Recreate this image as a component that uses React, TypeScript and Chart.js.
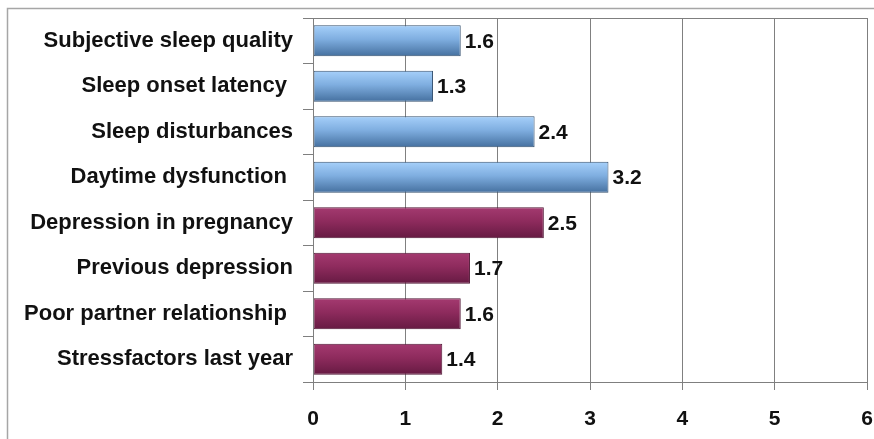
import React, { useEffect, useRef } from "react";
import { Chart, registerables } from "chart.js";

Chart.register(...registerables);

const categories = [
  "Subjective sleep quality",
  "Sleep onset latency ",
  "Sleep disturbances",
  "Daytime dysfunction ",
  "Depression in pregnancy",
  "Previous depression",
  "Poor partner relationship ",
  "Stressfactors last year",
];
const values = [1.6, 1.3, 2.4, 3.2, 2.5, 1.7, 1.6, 1.4];
const groups = ["sleep", "sleep", "sleep", "sleep", "risk", "risk", "risk", "risk"];
const xTicks = [0, 1, 2, 3, 4, 5, 6];

const FONT = "Arial, 'Liberation Sans', sans-serif";
const BAR_PCT = 0.68;

const palette: Record<string, { top: string; mid: string; bottom: string; border: string }> = {
  sleep: { top: "#a6d0fa", mid: "#7faee0", bottom: "#45709f", border: "#34506f" },
  risk: { top: "#a43a70", mid: "#8e2b5d", bottom: "#661a42", border: "#4f1433" },
};

const framePlugin = {
  id: "frame",
  beforeDraw(chart: any) {
    const { ctx, width, height } = chart;
    ctx.save();
    ctx.fillStyle = "#ffffff";
    ctx.fillRect(0, 0, width, height);
    ctx.strokeStyle = "#a6a6a6";
    ctx.lineWidth = 1.5;
    ctx.beginPath();
    ctx.moveTo(7.5, height);
    ctx.lineTo(7.5, 8.5);
    ctx.lineTo(width, 8.5);
    ctx.stroke();
    ctx.restore();
  },
  afterDraw(chart: any) {
    const { ctx, chartArea } = chart;
    ctx.save();
    ctx.strokeStyle = "#7f7f7f";
    ctx.lineWidth = 1;
    ctx.strokeRect(
      Math.round(chartArea.left) + 0.5,
      Math.round(chartArea.top) + 0.5,
      Math.round(chartArea.right - chartArea.left),
      Math.round(chartArea.bottom - chartArea.top)
    );
    ctx.restore();
  },
};

const labelPlugin = {
  id: "valueLabels",
  afterDatasetsDraw(chart: any) {
    const { ctx } = chart;
    const meta = chart.getDatasetMeta(0);
    ctx.save();
    ctx.font = `bold 21px ${FONT}`;
    ctx.fillStyle = "#111111";
    ctx.textAlign = "left";
    ctx.textBaseline = "middle";
    meta.data.forEach((el: any, i: number) => {
      ctx.fillText(values[i].toFixed(1), el.x + 4, el.y + 1);
    });
    ctx.restore();
  },
};

export default function App() {
  const ref = useRef<HTMLCanvasElement>(null);
  useEffect(() => {
    if (!ref.current) return;
    const chart = new Chart(ref.current, {
      type: "bar",
      data: {
        labels: categories,
        datasets: [
          {
            data: values,
            barPercentage: BAR_PCT,
            categoryPercentage: 1,
            borderWidth: 1,
            borderSkipped: false,
            borderColor: (c: any) => palette[groups[c.dataIndex]].border,
            backgroundColor: (c: any) => {
              const chart = c.chart;
              const g = palette[groups[c.dataIndex]];
              const ys = chart.scales && chart.scales.y;
              if (!ys || !chart.chartArea) return g.mid;
              const yc = ys.getPixelForValue(c.dataIndex);
              const h = ((chart.chartArea.bottom - chart.chartArea.top) / categories.length) * BAR_PCT;
              const grad = chart.ctx.createLinearGradient(0, yc - h / 2, 0, yc + h / 2);
              grad.addColorStop(0, g.top);
              grad.addColorStop(0.45, g.mid);
              grad.addColorStop(1, g.bottom);
              return grad;
            },
          },
        ],
      },
      options: {
        indexAxis: "y",
        responsive: false,
        animation: false,
        devicePixelRatio: 1,
        layout: { padding: { top: 18, right: 7, left: 0, bottom: 0 } },
        plugins: { legend: { display: false }, tooltip: { enabled: false } },
        scales: {
          x: {
            min: 0,
            max: 6,
            afterFit: (s: any) => {
              s.height = 57;
              s.paddingRight = 0;
              s.paddingLeft = 0;
            },
            afterBuildTicks: (s: any) => {
              s.ticks = xTicks.map((v) => ({ value: v }));
            },
            grid: {
              color: "#808080",
              lineWidth: 1,
              tickLength: 8,
              drawTicks: true,
            },
            border: { color: "#7f7f7f", width: 1 },
            ticks: {
              color: "#111111",
              font: { family: FONT, size: 21, weight: "bold" },
              padding: 17,
            },
          },
          y: {
            afterFit: (s: any) => {
              s.width = 313;
              s.paddingTop = 0;
              s.paddingBottom = 0;
            },
            grid: {
              drawOnChartArea: false,
              drawTicks: true,
              tickLength: 10,
              color: "#7f7f7f",
              offset: true,
            },
            border: { color: "#7f7f7f", width: 1 },
            ticks: {
              color: "#111111",
              font: { family: FONT, size: 22, weight: "bold" },
              padding: 10,
            },
          },
        },
      },
      plugins: [framePlugin, labelPlugin],
    } as any);
    return () => chart.destroy();
  }, []);
  return (
    <div style={{ position: "absolute", left: 0, top: 0, width: 874, height: 439 }}>
      <canvas ref={ref} width={874} height={439} style={{ display: "block" }} />
    </div>
  );
}
